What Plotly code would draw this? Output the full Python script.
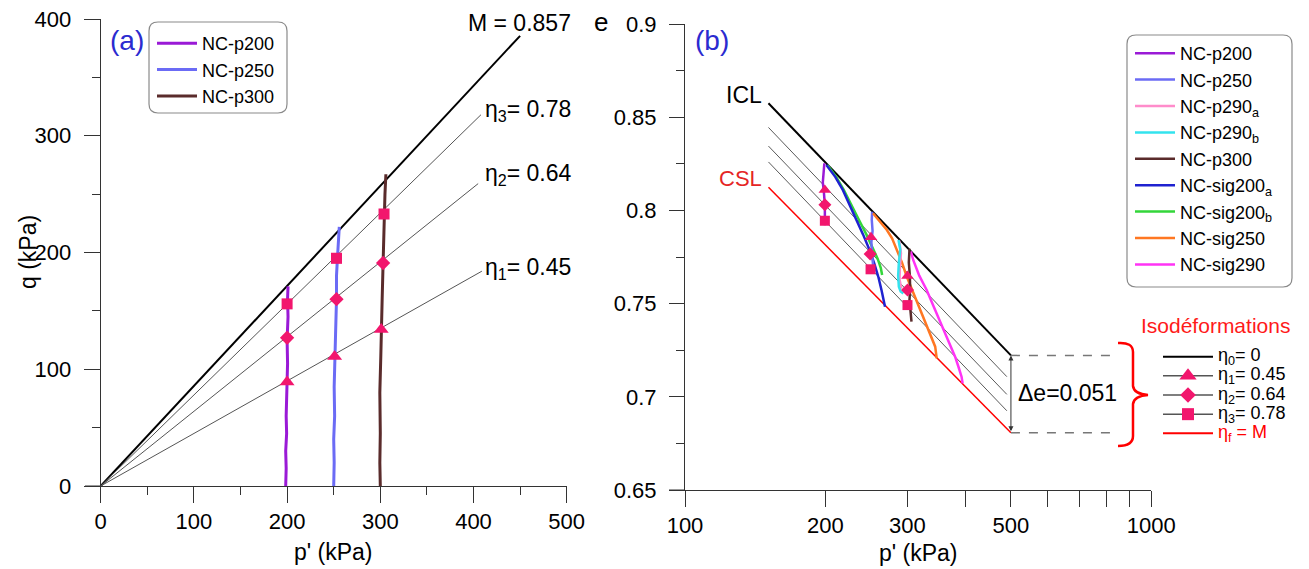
import math
import plotly.graph_objects as go

W, H = 1309, 569
OFF = 8  # page body margin offset of the embedded figure
FONT = "Liberation Sans, Arial, sans-serif"

# ---------------- Panel (a) data : q vs p' ----------------
p200_p = [198.5, 199, 198.5, 199.5, 199, 199.5, 200, 200.5, 200, 201, 200.5, 201]
p200_q = [0, 15, 30, 45, 60, 75, 90, 105, 125, 145, 160, 171]
p250_p = [250, 250.5, 250, 251, 250.5, 251, 252, 253, 253, 254, 255, 256]
p250_q = [0, 20, 40, 60, 85, 111, 130, 160, 180, 195, 210, 222]
p300_p = [300, 299.5, 300, 299.5, 300.5, 301, 302, 303, 303.5, 304, 305, 306]
p300_q = [0, 20, 45, 80, 110, 134, 160, 191, 210, 233, 250, 267]

ratio_names = ["M = 0.857", "η<sub>3</sub>= 0.78", "η<sub>2</sub>= 0.64", "η<sub>1</sub>= 0.45"]
ratio_p = [[0, 450], [0, 408], [0, 405], [0, 409]]
ratio_q = [[0, 385.6], [0, 318], [0, 259], [0, 184]]

tri_a_p = [200, 251, 301]
tri_a_q = [89, 111, 134]
dia_a_p = [200, 253, 303]
dia_a_q = [127, 160, 191]
sq_a_p = [200, 253, 304]
sq_a_q = [156, 195, 233]

# ---------------- Panel (b) data : e vs log p' ----------------
icl_p = [151, 500]
icl_e = [0.8575, 0.7222]
csl_p = [151, 500]
csl_e = [0.8124, 0.6807]
iso_p = [151, 490]
iso1_e = [0.8445, 0.7108]
iso2_e = [0.8345, 0.7013]
iso3_e = [0.8260, 0.6925]

b_p200_p = [199, 198, 197.5, 198.5, 199.5, 199.5, 199.5]
b_p200_e = [0.8253, 0.820, 0.815, 0.810, 0.803, 0.797, 0.792]
b_p250_p = [252, 251.5, 252.5, 251, 252, 253, 254]
b_p250_e = [0.7993, 0.795, 0.789, 0.783, 0.776, 0.770, 0.7663]
b_p290a_p = [288, 290.5, 289, 288.5, 291]
b_p290a_e = [0.7838, 0.777, 0.770, 0.763, 0.758]
b_p290b_p = [287, 289.5, 287.5, 286.5, 287.5, 290, 294]
b_p290b_e = [0.7841, 0.779, 0.772, 0.765, 0.759, 0.7565, 0.7555]
b_p300_p = [303, 302, 303.5, 304, 303, 304.5, 305.5, 306]
b_p300_e = [0.7795, 0.772, 0.765, 0.758, 0.752, 0.747, 0.743, 0.7403]
b_s200a_p = [201, 210, 218, 225, 233, 241, 249, 255, 260, 264, 267, 268.5]
b_s200a_e = [0.8244, 0.818, 0.811, 0.803, 0.795, 0.787, 0.7785, 0.771, 0.764, 0.757, 0.752, 0.7483]
b_s200b_p = [202, 211, 219, 227, 236, 245, 253, 259, 263, 264.7]
b_s200b_e = [0.8244, 0.818, 0.811, 0.803, 0.795, 0.787, 0.780, 0.774, 0.769, 0.7653]
b_s250_p = [253, 262, 271, 278, 285, 292, 299, 305, 309, 314, 319, 326, 333, 339, 344, 346.6]
b_s250_e = [0.7985, 0.794, 0.7895, 0.785, 0.7788, 0.772, 0.7644, 0.759, 0.7555, 0.751,
            0.7466, 0.741, 0.7358, 0.731, 0.7269, 0.7206]
b_s290_p = [305, 308.6, 318, 329.8, 338, 346.6, 356, 364.6, 372, 379.5, 386, 391.8, 393.9]
b_s290_e = [0.778, 0.7734, 0.765, 0.7573, 0.751, 0.7448, 0.738, 0.7322, 0.727, 0.7215, 0.716, 0.7108, 0.7072]

tri_b_p = [199.5, 250.5, 300]
tri_b_e = [0.811, 0.7856, 0.7648]
dia_b_p = [199.5, 249.5, 300]
dia_b_e = [0.803, 0.7766, 0.7573]
sq_b_p = [199.5, 250, 300]
sq_b_e = [0.7945, 0.7684, 0.7492]

delta_p = [500, 828]
delta_e_top = 0.7222
delta_e_bot = 0.6807
delta_label = "Δe=0.051"

iso_legend_labels = ["η<sub>0</sub>= 0", "η<sub>1</sub>= 0.45", "η<sub>2</sub>= 0.64",
                     "η<sub>3</sub>= 0.78", "η<sub>f</sub> = M"]

# ---------------- styles ----------------
C_P200 = "#9a1ad6"
C_P250 = "#6b6bf5"
C_P290A = "#ff8ccb"
C_P290B = "#33e3ee"
C_P300 = "#5a2b2b"
C_S200A = "#1f22d0"
C_S200B = "#33d63a"
C_S250 = "#ff7722"
C_S290 = "#ff33f5"
C_MK = "#f2166d"
AX = "#333333"


def px2x(px):
    return (px - OFF) / W


def py2y(py):
    return 1 - (py - OFF) / H


fig = go.Figure()

# ---- panel (a) ----
for i, (pp, qq) in enumerate(zip(ratio_p, ratio_q)):
    fig.add_trace(go.Scatter(x=pp, y=qq, mode="lines", xaxis="x", yaxis="y",
                             line=dict(color="#000000" if i == 0 else "#555555", width=2 if i == 0 else 1),
                             showlegend=False, hoverinfo="skip"))

for name, pp, qq, col in [("NC-p200", p200_p, p200_q, C_P200),
                          ("NC-p250", p250_p, p250_q, C_P250),
                          ("NC-p300", p300_p, p300_q, C_P300)]:
    fig.add_trace(go.Scatter(x=pp, y=qq, mode="lines", name=name, xaxis="x", yaxis="y",
                             line=dict(color=col, width=3), legend="legend"))

for pp, qq, sym, sz in [(tri_a_p, tri_a_q, "triangle-up", 13),
                        (dia_a_p, dia_a_q, "diamond", 11),
                        (sq_a_p, sq_a_q, "square", 11)]:
    fig.add_trace(go.Scatter(x=pp, y=qq, mode="markers", xaxis="x", yaxis="y",
                             marker=dict(symbol=sym, size=sz, color=C_MK),
                             showlegend=False))

# ---- panel (b) ----
for ee in [iso1_e, iso2_e, iso3_e]:
    fig.add_trace(go.Scatter(x=iso_p, y=ee, mode="lines", xaxis="x2", yaxis="y2",
                             line=dict(color="#5a5a5a", width=1), showlegend=False, hoverinfo="skip"))
fig.add_trace(go.Scatter(x=icl_p, y=icl_e, mode="lines", xaxis="x2", yaxis="y2",
                         line=dict(color="#000000", width=2), showlegend=False))
fig.add_trace(go.Scatter(x=csl_p, y=csl_e, mode="lines", xaxis="x2", yaxis="y2",
                         line=dict(color="#ff0000", width=1.5), showlegend=False))

for ee in [delta_e_top, delta_e_bot]:
    fig.add_trace(go.Scatter(x=delta_p, y=[ee, ee], mode="lines", xaxis="x2", yaxis="y2",
                             line=dict(color="#777777", width=1.5, dash="dash"),
                             showlegend=False, hoverinfo="skip"))

paths_b = [
    ("NC-sig200<sub>b</sub>", b_s200b_p, b_s200b_e, C_S200B, 7),
    ("NC-sig200<sub>a</sub>", b_s200a_p, b_s200a_e, C_S200A, 6),
    ("NC-p200", b_p200_p, b_p200_e, C_P200, 1),
    ("NC-p250", b_p250_p, b_p250_e, C_P250, 2),
    ("NC-sig250", b_s250_p, b_s250_e, C_S250, 8),
    ("NC-p290<sub>a</sub>", b_p290a_p, b_p290a_e, C_P290A, 3),
    ("NC-p290<sub>b</sub>", b_p290b_p, b_p290b_e, C_P290B, 4),
    ("NC-sig290", b_s290_p, b_s290_e, C_S290, 9),
    ("NC-p300", b_p300_p, b_p300_e, C_P300, 5),
]
for name, pp, ee, col, rank in paths_b:
    fig.add_trace(go.Scatter(x=pp, y=ee, mode="lines", name=name, xaxis="x2", yaxis="y2",
                             line=dict(color=col, width=2.5), legend="legend2", legendrank=rank))

for pp, ee, sym, sz in [(tri_b_p, tri_b_e, "triangle-up", 11),
                        (dia_b_p, dia_b_e, "diamond", 10),
                        (sq_b_p, sq_b_e, "square", 10)]:
    fig.add_trace(go.Scatter(x=pp, y=ee, mode="markers", xaxis="x2", yaxis="y2",
                             marker=dict(symbol=sym, size=sz, color=C_MK), showlegend=False))

# ---- isodeformation key (own small axis) ----
iso_rows = list(range(len(iso_legend_labels)))
iso_cols = ["#000000", "#555555", "#555555", "#555555", "#ff0000"]
iso_w = [2, 1.5, 1.5, 1.5, 2]
iso_sym = [None, "triangle-up", "diamond", "square", None]
iso_sz = [0, 15, 12, 12, 0]
for r, col, w, sym, sz in zip(iso_rows, iso_cols, iso_w, iso_sym, iso_sz):
    fig.add_trace(go.Scatter(x=[0, 1], y=[r, r], mode="lines", xaxis="x3", yaxis="y3",
                             line=dict(color=col, width=w), showlegend=False, hoverinfo="skip"))
    if sym:
        fig.add_trace(go.Scatter(x=[0.5], y=[r], mode="markers", xaxis="x3", yaxis="y3",
                                 marker=dict(symbol=sym, size=sz, color=C_MK),
                                 showlegend=False, hoverinfo="skip"))

tickfont = dict(family=FONT, size=22, color="#000000")
common = dict(showline=True, linecolor=AX, linewidth=1, ticks="outside", tickcolor=AX,
              tickwidth=1, showgrid=False, zeroline=False, tickfont=tickfont, automargin=False,
              ticklabeloverflow="allow")


def paper_text(px, py, text, size, color="#000", **kw):
    d = dict(x=px2x(px), y=py2y(py), xref="paper", yref="paper", text=text, showarrow=False,
             xanchor="center", yanchor="middle", font=dict(family=FONT, size=size, color=color))
    d.update(kw)
    return d


annotations = []
annotations.append(dict(x=392, y=396.6, xref="x", yref="y", text=ratio_names[0], showarrow=False,
                        xanchor="left", yanchor="middle", font=dict(family=FONT, size=23, color="#000")))
for name, qv in zip(ratio_names[1:], [322, 266.4, 186.7]):
    annotations.append(dict(x=410.2, y=qv, xref="x", yref="y", text=name, showarrow=False,
                            xanchor="left", yanchor="middle", font=dict(family=FONT, size=23, color="#000")))
annotations.append(paper_text(127, 40, "(a)", 28, "#2b2bd0"))
annotations.append(paper_text(712, 40, "(b)", 28, "#2b2bd0"))
annotations.append(paper_text(28, 252, "q (kPa)", 23, textangle=-90))
annotations.append(paper_text(333.7, 552, "p' (kPa)", 23))
annotations.append(paper_text(918, 553, "p' (kPa)", 23))
annotations.append(paper_text(601, 22, "e", 26))
annotations.append(dict(x=math.log10(icl_p[0]) - 0.01, y=icl_e[0] + 0.0045, xref="x2", yref="y2", text="ICL",
                        showarrow=False, xanchor="right", yanchor="middle",
                        font=dict(family=FONT, size=23, color="#000")))
annotations.append(dict(x=math.log10(csl_p[0]) - 0.01, y=csl_e[0] + 0.0048, xref="x2", yref="y2", text="CSL",
                        showarrow=False, xanchor="right", yanchor="middle",
                        font=dict(family=FONT, size=22, color="#e52525")))
annotations.append(dict(x=math.log10(delta_p[0]), y=delta_e_top, ax=math.log10(delta_p[0]), ay=delta_e_bot,
                        xref="x2", yref="y2", axref="x2", ayref="y2", text="", showarrow=True,
                        arrowhead=2, arrowside="end+start", arrowsize=1, arrowwidth=1, arrowcolor="#333"))
annotations.append(paper_text(1016, 393, delta_label, 23, xanchor="left"))
annotations.append(paper_text(1215, 325, "Isodéformations", 21, "#ff1a1a"))
for r, lab, col in zip(iso_rows, iso_legend_labels, iso_cols):
    annotations.append(dict(x=1, y=r, xref="x3", yref="y3", text=lab, showarrow=False, xanchor="left",
                            yanchor="middle", xshift=3,
                            font=dict(family=FONT, size=18, color="#ff0000" if col == "#ff0000" else "#000")))


def rrect(x0, y0, x1, y1, r):
    def P(a, b):
        return f"{px2x(a):.5f},{py2y(b):.5f}"
    return (f"M {P(x0 + r, y0)} L {P(x1 - r, y0)} Q {P(x1, y0)} {P(x1, y0 + r)} "
            f"L {P(x1, y1 - r)} Q {P(x1, y1)} {P(x1 - r, y1)} L {P(x0 + r, y1)} "
            f"Q {P(x0, y1)} {P(x0, y1 - r)} L {P(x0, y0 + r)} Q {P(x0, y0)} {P(x0 + r, y0)} Z")


def brace():
    def P(a, b):
        return f"{px2x(a):.5f},{py2y(b):.5f}"
    return (f"M {P(1118, 343)} Q {P(1133, 342)} {P(1133, 352)} L {P(1133, 386)} "
            f"Q {P(1134, 394)} {P(1148, 395)} Q {P(1134, 396)} {P(1133, 404)} "
            f"L {P(1133, 436)} Q {P(1133, 446)} {P(1118, 446)}")


shapes = [
    dict(type="path", xref="paper", yref="paper", path=rrect(149, 22, 287, 113, 9),
         line=dict(color="#8a8a8a", width=1.2)),
    dict(type="path", xref="paper", yref="paper", path=rrect(1127, 35, 1292, 287, 9),
         line=dict(color="#8a8a8a", width=1.2)),
    dict(type="path", xref="paper", yref="paper", path=brace(), line=dict(color="#ff0000", width=2.5)),
    dict(type="line", xref="paper", yref="y", x0=px2x(85), x1=px2x(100.7), y0=0, y1=0,
         line=dict(color=AX, width=1)),
    dict(type="line", xref="paper", yref="y2", x0=px2x(669), x1=px2x(685), y0=0.65, y1=0.65,
         line=dict(color=AX, width=1)),
]

bx_ticks = [100, 200, 300, 400, 500, 600, 700, 800, 900, 1000]
bx_text = ["100", "200", "300", "", "500", "", "", "", "", "1000"]
by_ticks = [0.65, 0.7, 0.75, 0.8, 0.85, 0.9]
by_text = ["0.65", "0.7", "0.75", "0.8", "0.85", "0.9"]

fig.update_layout(
    width=W, height=H, margin=dict(l=0, r=0, t=0, b=0, autoexpand=False),
    paper_bgcolor="white", plot_bgcolor="white",
    font=dict(family=FONT, color="#000"),
    xaxis=dict(domain=[px2x(100.7), px2x(566.7)], range=[0, 500], anchor="y", dtick=100, tick0=0,
               ticklen=16, ticklabelstandoff=0,
               minor=dict(dtick=50, ticklen=8, ticks="outside", tickcolor=AX, showgrid=False), **common),
    yaxis=dict(domain=[py2y(486), py2y(19)], range=[0, 400], anchor="x", dtick=100, tick0=0,
               ticklen=16, ticklabelstandoff=8,
               minor=dict(dtick=50, ticklen=8, ticks="outside", tickcolor=AX, showgrid=False), **common),
    xaxis2=dict(domain=[px2x(685), px2x(1151.3)], type="log", range=[2, 3], anchor="y2",
                tickvals=bx_ticks, ticktext=bx_text, ticklen=16, ticklabelstandoff=0, **common),
    yaxis2=dict(domain=[py2y(490), py2y(24)], range=[0.65, 0.9], anchor="x2",
                tickvals=by_ticks, ticktext=by_text, ticklen=15, ticklabelstandoff=8,
                minor=dict(dtick=0.025, tick0=0.65, ticklen=8, ticks="outside", tickcolor=AX, showgrid=False),
                **common),
    xaxis3=dict(domain=[px2x(1163), px2x(1213)], range=[0, 1], anchor="y3", visible=False, fixedrange=True,
                automargin=False),
    yaxis3=dict(domain=[py2y(442.9), py2y(347.1)], range=[4.5, -0.5], anchor="x3", visible=False,
                fixedrange=True, automargin=False),
    legend=dict(x=px2x(152), y=py2y(25), xanchor="left", yanchor="top", bgcolor="rgba(0,0,0,0)",
                borderwidth=0, font=dict(family=FONT, size=18, color="#000"), tracegroupgap=0,
                itemwidth=40),
    legend2=dict(x=px2x(1130), y=py2y(35), xanchor="left", yanchor="top", bgcolor="rgba(0,0,0,0)",
                 borderwidth=0, font=dict(family=FONT, size=18, color="#000"), tracegroupgap=0,
                 itemwidth=40),
    annotations=annotations,
    shapes=shapes,
    showlegend=True,
)

fig.write_html("out.html")
